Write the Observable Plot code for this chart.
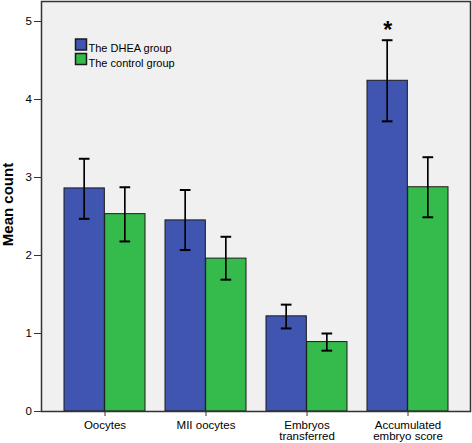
<!DOCTYPE html>
<html>
<head>
<meta charset="utf-8">
<script src="https://cdn.jsdelivr.net/npm/d3@7"></script>
<script src="https://cdn.jsdelivr.net/npm/@observablehq/plot@0.6"></script>
<style>
  html, body { margin: 0; padding: 0; background: #fff; }
</style>
</head>
<body>
<div id="chart"></div>
<script>
const categories = ["Oocytes", "MII oocytes", "Embryos\ntransferred", "Accumulated\nembryo score"];
const groups = ["The DHEA group", "The control group"];
const dheaMean = [2.86, 2.45, 1.22, 4.24];
const dheaLow  = [2.47, 2.07, 1.065, 3.72];
const dheaHigh = [3.24, 2.84, 1.37, 4.76];
const ctrlMean = [2.53, 1.96, 0.89, 2.875];
const ctrlLow  = [2.18, 1.69, 0.78, 2.49];
const ctrlHigh = [2.875, 2.24, 1.0, 3.26];
const yTicks = [0, 1, 2, 3, 4, 5];
const significant = ["Accumulated\nembryo score"];

const W = 472, H = 443;
const mL = 41, mR = 2, mT = 1, mB = 32;
const pInner = 0.2, pOuter = 0.21;
const bw = d3.scaleBand().domain(categories).range([mL, W - mR])
  .paddingInner(pInner).paddingOuter(pOuter).bandwidth();

const dhea = categories.map((c, i) => ({cat: c, group: groups[0], mean: dheaMean[i], lo: dheaLow[i], hi: dheaHigh[i]}));
const ctrl = categories.map((c, i) => ({cat: c, group: groups[1], mean: ctrlMean[i], lo: ctrlLow[i], hi: ctrlHigh[i]}));
const sig = dhea.filter(d => significant.includes(d.cat));

const stroke = "#1a1a1a";
const capHalf = 5.5;

const chart = Plot.plot({
  width: W, height: H,
  marginLeft: mL, marginRight: mR, marginTop: mT, marginBottom: mB,
  style: {fontSize: "11.5px", fontFamily: "Arial, 'Liberation Sans', sans-serif", background: "#fff", color: "#000"},
  x: {domain: categories, paddingInner: pInner, paddingOuter: pOuter, label: null},
  y: {domain: [0, (H - mB - mT) / 78], label: null},
  color: {domain: groups, range: ["#3f55b0", "#35bb4b"]},
  marks: [
    Plot.frame({fill: "#f0f0f0", stroke: "none"}),
    Plot.axisX({tickSize: 5, tickPadding: 4, lineHeight: 0.98, stroke: "#333"}),
    Plot.axisY({ticks: yTicks, tickFormat: d3.format("d"), tickSize: 7, tickPadding: 2.5, stroke: "#333"}),
    Plot.barY(dhea, {x: "cat", y: "mean", fill: "group", stroke, strokeWidth: 1, insetRight: bw / 2}),
    Plot.barY(ctrl, {x: "cat", y: "mean", fill: "group", stroke, strokeWidth: 1, insetLeft: bw / 2}),
    // error bar stems
    Plot.barY(dhea, {x: "cat", y1: "lo", y2: "hi", fill: "#000", insetLeft: bw / 4 - 1, insetRight: 3 * bw / 4 - 1}),
    Plot.barY(ctrl, {x: "cat", y1: "lo", y2: "hi", fill: "#000", insetLeft: 3 * bw / 4 - 1, insetRight: bw / 4 - 1}),
    // caps
    Plot.tickY(dhea, {x: "cat", y: "lo", stroke: "#000", strokeWidth: 2, insetLeft: bw / 4 - capHalf, insetRight: 3 * bw / 4 - capHalf}),
    Plot.tickY(dhea, {x: "cat", y: "hi", stroke: "#000", strokeWidth: 2, insetLeft: bw / 4 - capHalf, insetRight: 3 * bw / 4 - capHalf}),
    Plot.tickY(ctrl, {x: "cat", y: "lo", stroke: "#000", strokeWidth: 2, insetLeft: 3 * bw / 4 - capHalf, insetRight: bw / 4 - capHalf}),
    Plot.tickY(ctrl, {x: "cat", y: "hi", stroke: "#000", strokeWidth: 2, insetLeft: 3 * bw / 4 - capHalf, insetRight: bw / 4 - capHalf}),
    // significance marker
    Plot.text(sig, {x: "cat", y: "hi", text: () => "*", dx: -bw / 4, dy: -2, lineAnchor: "bottom", fontSize: 23, fontWeight: "bold"}),
    // legend
    Plot.dot([groups[0]], {frameAnchor: "top-left", dx: 39.5, dy: 43, symbol: "square", r: 6.2, fill: d => d, stroke}),
    Plot.dot([groups[1]], {frameAnchor: "top-left", dx: 39.5, dy: 57.5, symbol: "square", r: 6.2, fill: d => d, stroke}),
    Plot.text([groups[0]], {frameAnchor: "top-left", dx: 47, dy: 43, text: d => d, textAnchor: "start", fontSize: 11}),
    Plot.text([groups[1]], {frameAnchor: "top-left", dx: 47, dy: 57.5, text: d => d, textAnchor: "start", fontSize: 11}),
    // y-axis title
    Plot.text(["Mean count"], {frameAnchor: "left", dx: -33.5, dy: -2, rotate: -90, textAnchor: "middle", lineAnchor: "middle", text: d => d, fontSize: 15, fontWeight: "bold"}),
    Plot.frame({stroke: "#333", strokeWidth: 1.5})
  ]
});
document.getElementById("chart").appendChild(chart);
</script>
</body>
</html>
